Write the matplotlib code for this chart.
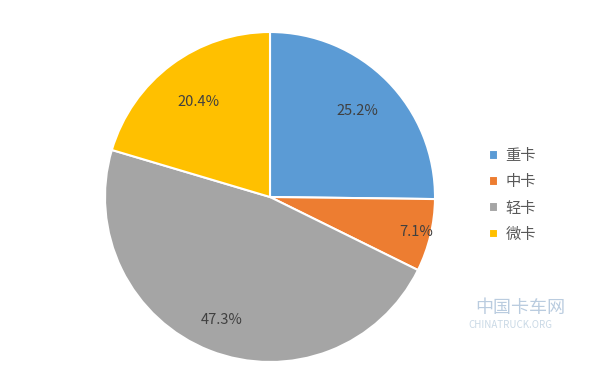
import numpy as np
import matplotlib.pyplot as plt

plt.rcParams['font.family'] = ['Noto Sans CJK SC', 'DejaVu Sans']

labels = ['重卡', '中卡', '轻卡', '微卡']
shares = [25.2, 7.1, 47.3, 20.4]
colors = ['#5B9BD5', '#ED7D31', '#A5A5A5', '#FFC000']
label_dist = [0.74, 0.91, 0.80, 0.72]

fig = plt.figure(figsize=(6, 3.7), dpi=100)
ax = fig.add_axes([105 / 600, 8 / 370, 330 / 600, 330 / 370])
wedges, _ = ax.pie(shares, colors=colors, startangle=90, counterclock=False,
                   radius=1, wedgeprops=dict(edgecolor='white', linewidth=1.5))
ax.set_xlim(-1, 1)
ax.set_ylim(-1, 1)
ax.set_aspect('equal')

for w, s, d in zip(wedges, shares, label_dist):
    ang = np.deg2rad((w.theta1 + w.theta2) / 2)
    ax.text(d * np.cos(ang), d * np.sin(ang), f'{s:.1f}%', ha='center', va='center',
            fontsize=10.5, color='#404040')

fig.legend(wedges, labels, loc='center left', bbox_to_anchor=(475 / 600, 1 - 195 / 370),
           frameon=False, fontsize=11, handlelength=0.6, handleheight=0.6,
           handletextpad=0.5, labelspacing=0.6, labelcolor='#595959')

# watermark
fig.text(520 / 600, 1 - 308 / 370, '中国卡车网', fontsize=13, color='#3a6ea5', alpha=0.35,
         ha='center', va='center')
fig.text(510 / 600, 1 - 325 / 370, 'CHINATRUCK.ORG', fontsize=7, color='#7aa0c0', alpha=0.4,
         ha='center', va='center')

fig.savefig('out.png', dpi=100, facecolor='white')
